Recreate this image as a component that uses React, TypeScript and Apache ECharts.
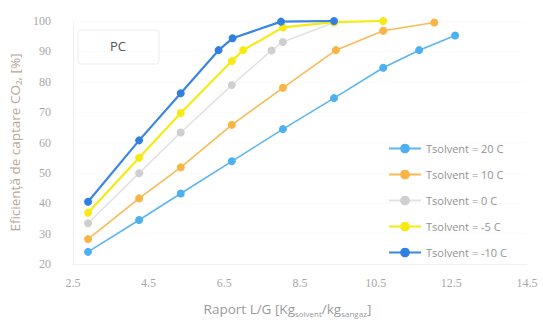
import React, { useEffect, useRef } from "react";
import * as echarts from "echarts";

const seriesNames = [
  "Tsolvent = 20 C",
  "Tsolvent = 10 C",
  "Tsolvent = 0 C",
  "Tsolvent = -5 C",
  "Tsolvent = -10 C",
];
const seriesColors = ["#4cb0f2", "#f8b445", "#cfcfcf", "#f7ea12", "#2f80e0"];
const lineColors = ["#5bb6f2", "#f8bb55", "#e2e2e2", "#f7ea12", "#3a86e0"];

const t20X = [2.9, 4.25, 5.35, 6.7, 8.05, 9.4, 10.7, 11.65, 12.6];
const t20Y = [24.0, 34.5, 43.2, 53.8, 64.4, 74.6, 84.6, 90.4, 95.2];
const t10X = [2.9, 4.25, 5.35, 6.7, 8.05, 9.45, 10.7, 12.05];
const t10Y = [28.2, 41.6, 51.8, 65.8, 78.0, 90.4, 96.8, 99.5];
const t0X = [2.9, 4.25, 5.35, 6.7, 7.75, 8.05, 9.4];
const t0Y = [33.4, 49.9, 63.3, 78.9, 90.3, 93.1, 99.5];
const m5X = [2.9, 4.25, 5.35, 6.7, 7.0, 8.05, 9.4, 10.7];
const m5Y = [36.9, 55.0, 69.7, 86.8, 90.4, 97.9, 99.6, 100];
const m10X = [2.9, 4.25, 5.35, 6.35, 6.72, 8.0, 9.4];
const m10Y = [40.5, 60.7, 76.2, 90.4, 94.3, 99.8, 100];

const xTicks = [2.5, 4.5, 6.5, 8.5, 10.5, 12.5, 14.5];
const xOffset = 2.5;

const allX = [t20X, t10X, t0X, m5X, m10X];
const allY = [t20Y, t10Y, t0Y, m5Y, m10Y];

export default function App() {
  const ref = useRef<HTMLDivElement>(null);
  useEffect(() => {
    if (!ref.current) return;
    const chart = echarts.init(ref.current, null, { renderer: "svg" });
    const tickFont = "Liberation Serif";
    const sansFont = "Open Sans";
    chart.setOption({
      animation: false,
      backgroundColor: "#ffffff",
      grid: { left: 65, right: 16, top: 21, bottom: 50 },
      legend: {
        orient: "vertical",
        left: 383,
        top: 138,
        itemWidth: 32,
        itemHeight: 12,
        itemGap: 15,
        data: seriesNames,
        textStyle: { color: "#939393", fontSize: 11, fontFamily: sansFont },
      },
      xAxis: {
        type: "value",
        min: 0,
        max: xTicks[xTicks.length - 1] - xOffset,
        interval: 2,
        axisLine: { show: true, lineStyle: { color: "#f0f0f0" } },
        axisTick: { show: false },
        splitLine: { show: false },
        axisLabel: {
          color: "#a8a8a8",
          fontSize: 12,
          fontFamily: tickFont,
          margin: 13,
          formatter: (v: number) => (v + xOffset).toFixed(1),
        },
        name: "Raport L/G [Kg{s|solvent}/kg{s|sangaz}]",
        nameLocation: "middle",
        nameGap: 36,
        nameTextStyle: {
          color: "#9a9a9a",
          fontSize: 13.5,
          fontFamily: sansFont,
          lineHeight: 17,
          padding: [0, 25, 0, 0],
          rich: {
            s: { fontSize: 8, color: "#9a9a9a", fontFamily: sansFont, lineHeight: 17, verticalAlign: "bottom" },
          },
        },
      },
      yAxis: {
        type: "value",
        min: 20,
        max: 100,
        interval: 10,
        axisLine: { show: true, lineStyle: { color: "#f0f0f0" } },
        axisTick: { show: false },
        splitLine: { show: true, lineStyle: { color: "#f7f7f7", type: "dotted" } },
        axisLabel: { color: "#a8a8a8", fontSize: 12, fontFamily: tickFont, margin: 22 },
        name: "Eficiență de captare CO₂, [%]",
        nameLocation: "middle",
        nameGap: 40,
        nameTextStyle: { color: "#b5a898", fontSize: 13.5, fontFamily: sansFont },
      },
      graphic: [
        {
          type: "rect",
          shape: { x: 78, y: 30, width: 81, height: 34, r: 3 },
          style: { fill: "none", stroke: "#ececec", lineWidth: 1 },
        },
        {
          type: "text",
          x: 118,
          y: 46,
          style: {
            text: "PC",
            fill: "#555555",
            fontSize: 13,
            fontFamily: sansFont,
            align: "center",
            verticalAlign: "middle",
          },
        },
      ],
      series: seriesNames.map((name, i) => ({
        name,
        type: "line",
        data: allX[i].map((x, j) => [x - xOffset, allY[i][j]]),
        symbol: "circle",
        symbolSize: 8,
        itemStyle: { color: seriesColors[i] },
        lineStyle: { color: lineColors[i], width: i >= 3 ? 2.2 : 1.6 },
        z: 2 + i,
      })),
    });
    return () => chart.dispose();
  }, []);
  return (
    <div
      ref={ref}
      style={{ position: "fixed", left: 0, top: 0, width: 543, height: 322 }}
    />
  );
}
